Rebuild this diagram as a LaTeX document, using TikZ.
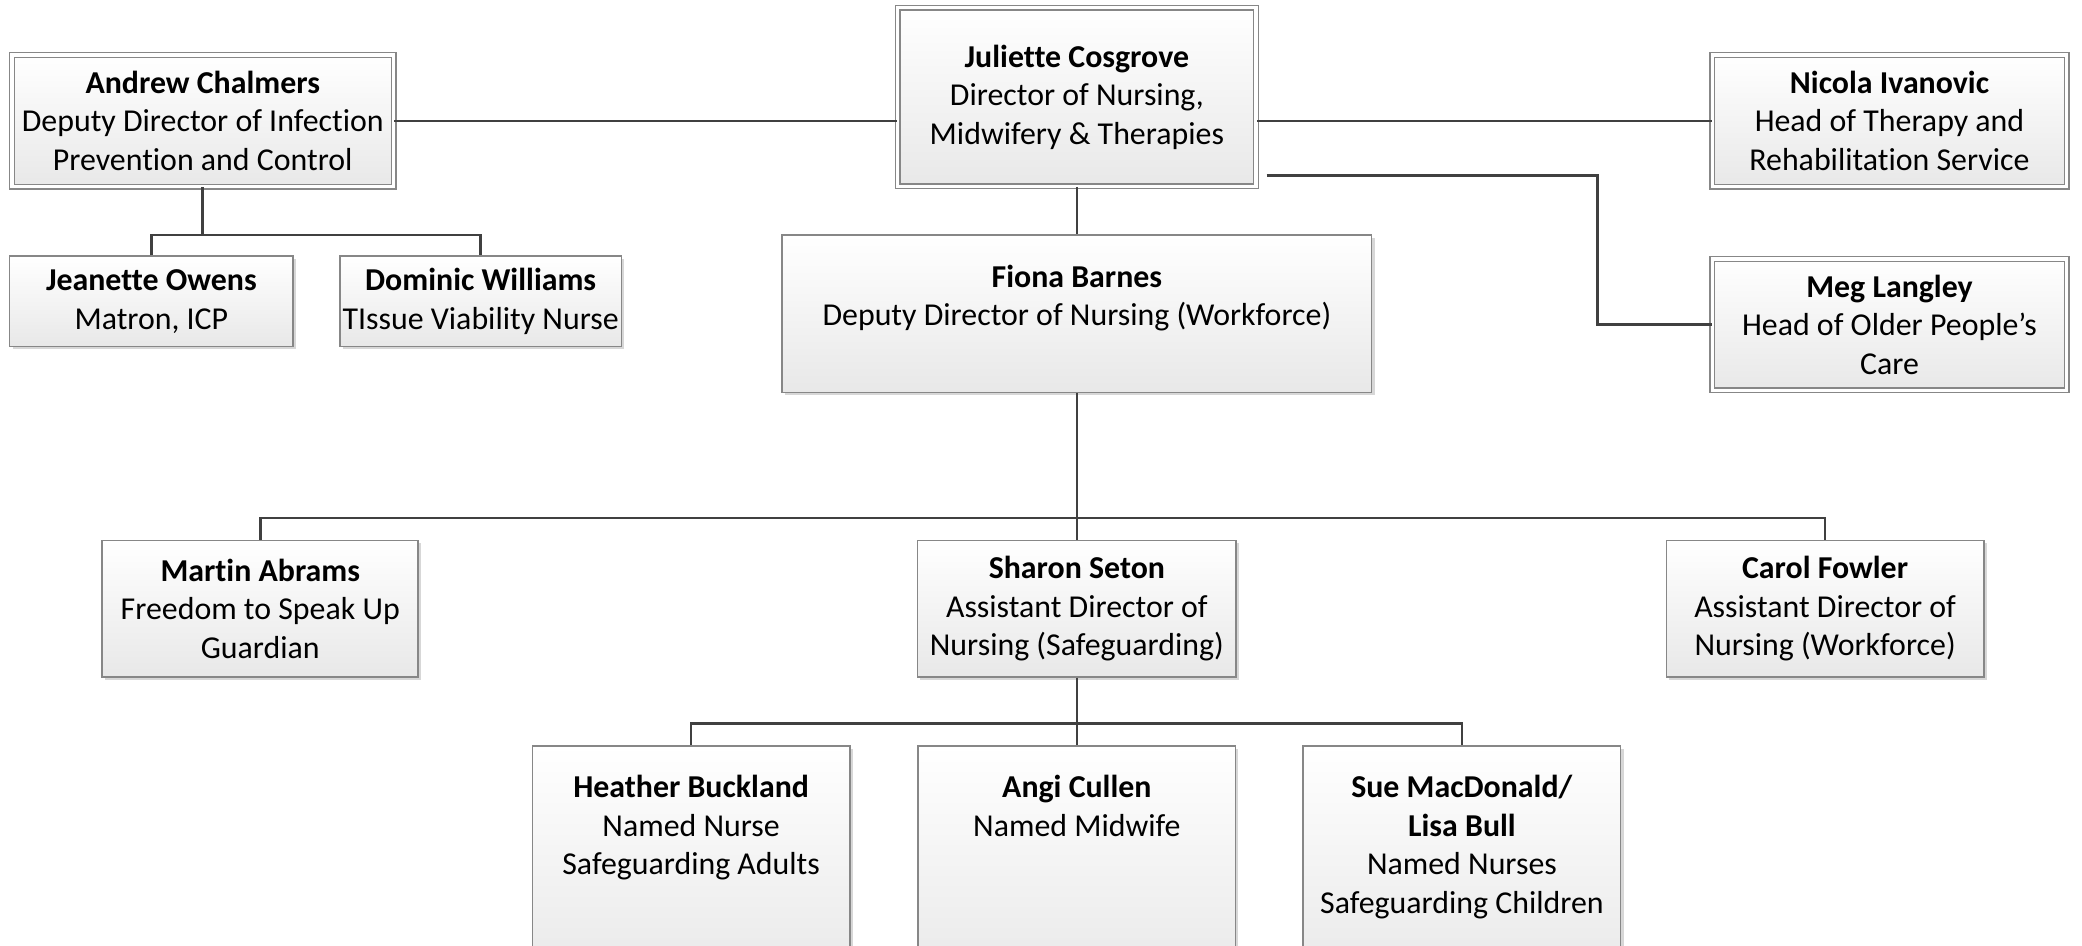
\documentclass[tikz,border=0pt]{standalone}
\usepackage{fontspec}
\setmainfont[Ligatures=NoCommon]{Carlito}
\usetikzlibrary{shadows,calc}
\definecolor{bordergray}{RGB}{135,135,135}
\definecolor{linegray}{RGB}{64,64,64}
\definecolor{boxbottom}{RGB}{232,232,232}
\tikzset{
  orgbox/.style={draw=bordergray, line width=0.6pt, top color=white, bottom color=boxbottom,
    align=center, inner sep=0pt, font=\fontsize{12}{14.5}\selectfont,
    drop shadow={shadow xshift=1.1pt, shadow yshift=-1.1pt, fill=black!35, opacity=0.45}},
  dblbox/.style={orgbox, double=white, double distance=1.3pt, line width=0.5pt},
  conn/.style={draw=linegray, line width=0.95pt},
}
\newcommand{\topbox}[3]{\parbox[c][#1][t]{#2}{\centering\fontsize{12}{14.5}\selectfont\vspace*{9.5pt}\strut #3}}
\begin{document}
\begin{tikzpicture}[x=0.5pt,y=-0.5pt]
\useasboundingbox (0,0) rectangle (1568,712);
\clip (0,0) rectangle (1568,712);
% top row
\node[dblbox, minimum width=135pt, minimum height=67.25pt] (juliette) at (811,73)
  {\textbf{Juliette Cosgrove}\\Director of Nursing,\\Midwifery \& Therapies};
\node[dblbox, minimum width=143.75pt, minimum height=49.5pt] (andrew) at (152.7,91)
  {\textbf{Andrew Chalmers}\\Deputy Director of Infection\\Prevention and Control};
\node[dblbox, minimum width=133.5pt, minimum height=49.5pt] (nicola) at (1423,91)
  {\textbf{Nicola Ivanovic}\\Head of Therapy and\\Rehabilitation Service};
\node[dblbox, minimum width=133.5pt, minimum height=49.5pt] (meg) at (1423,244.5)
  {\textbf{Meg Langley}\\Head of Older People’s\\Care};
% second row
\node[orgbox, minimum width=106.75pt, minimum height=34pt] (jeanette) at (114,227)
  {\textbf{Jeanette Owens}\\Matron, ICP};
\node[orgbox, minimum width=106pt, minimum height=34pt] (dominic) at (362,227)
  {\textbf{Dominic Williams}\\TIssue Viability Nurse};
\node[orgbox, anchor=north] (fiona) at (811,176.5)
  {\topbox{59.25pt}{222pt}{\textbf{Fiona Barnes}\\Deputy Director of Nursing (Workforce)}};
% third row
\node[orgbox, minimum width=119pt, minimum height=51.5pt] (martin) at (196,458.5)
  {\textbf{Martin Abrams}\\Freedom to Speak Up\\Guardian};
\node[orgbox, minimum width=120pt, minimum height=51.5pt] (sharon) at (811,458.5)
  {\textbf{Sharon Seton}\\Assistant Director of\\Nursing (Safeguarding)};
\node[orgbox, minimum width=119.5pt, minimum height=51.5pt] (carol) at (1374.5,458.5)
  {\textbf{Carol Fowler}\\Assistant Director of\\Nursing (Workforce)};
% bottom row
\node[orgbox, anchor=north] (heather) at (520.5,561)
  {\topbox{90pt}{119.5pt}{\textbf{Heather Buckland}\\Named Nurse\\Safeguarding Adults}};
\node[orgbox, anchor=north] (angi) at (811,561)
  {\topbox{90pt}{119.5pt}{\textbf{Angi Cullen}\\Named Midwife}};
\node[orgbox, anchor=north] (sue) at (1101,561)
  {\topbox{90pt}{119.5pt}{\textbf{Sue MacDonald/}\\\textbf{Lisa Bull}\\Named Nurses\\Safeguarding Children}};
% connectors
\draw[conn] (andrew.east) -- (andrew.east -| juliette.west);
\draw[conn] (juliette.east |- nicola.west) -- (nicola.west);
\coordinate (jm) at (954,132);
\coordinate (mbend) at (1203,132);
\draw[conn] (jm) -- (mbend) |- (meg.west);
\draw[conn] (juliette.south) -- (fiona.north);
\coordinate (ab) at (152.7,177);
\draw[conn] (andrew.south) -- (andrew.south |- ab);
\draw[conn] (jeanette.north) |- (ab) -| (dominic.north);
\coordinate (fb) at (811,390);
\draw[conn] (fiona.south) -- (sharon.north);
\draw[conn] (martin.north) |- (fb) -| (carol.north);
\coordinate (sb) at (811,545);
\draw[conn] (sharon.south) -- (angi.north);
\draw[conn] (heather.north) |- (sb) -| (sue.north);
\end{tikzpicture}
\end{document}
